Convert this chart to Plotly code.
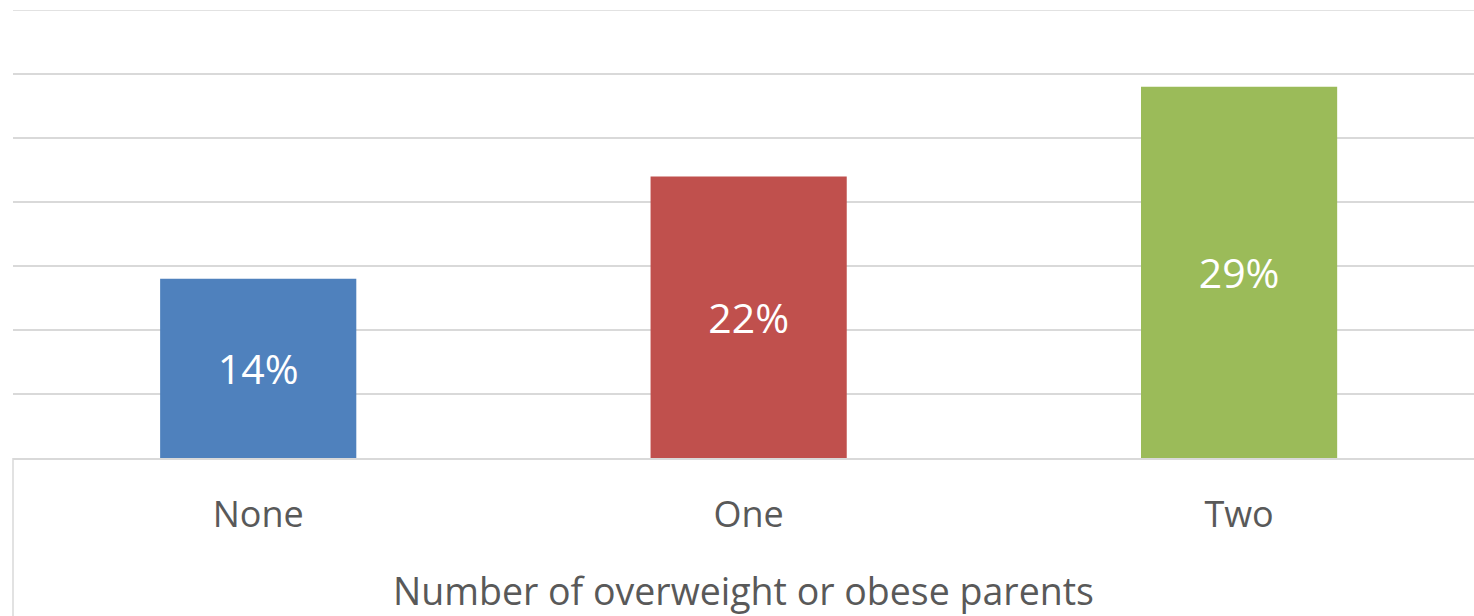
import plotly.graph_objects as go

categories = ["None", "One", "Two"]
shares = [0.14, 0.22, 0.29]
bar_colors = ["#4F81BD", "#C0504D", "#9BBB59"]
label_text = ["14%", "22%", "29%"]
axis_title = "Number of overweight or obese parents"
y_max = 0.35

FONT = "Open Sans"
GRID = "#d9d9d9"

fig = go.Figure(
    go.Bar(
        x=categories,
        y=shares,
        marker=dict(color=bar_colors, line=dict(width=0)),
        width=0.4,
        text=label_text,
        textposition="inside",
        insidetextanchor="middle",
        textangle=0,
        textfont=dict(family=FONT, size=41, color="white"),
        hoverinfo="skip",
    )
)

fig.update_layout(
    width=1474,
    height=616,
    margin=dict(l=13, r=0, t=10, b=158),
    paper_bgcolor="white",
    plot_bgcolor="white",
    showlegend=False,
    uniformtext=dict(minsize=10, mode="show"),
)

fig.update_xaxes(
    range=[-0.5, 2.479],
    showgrid=False,
    showline=True,
    linecolor=GRID,
    linewidth=2,
    ticks="",
    tickfont=dict(family=FONT, size=36, color="#595959"),
    ticklabelstandoff=24,
    title=dict(text=axis_title, font=dict(family=FONT, size=37.5, color="#595959"), standoff=48),
)

fig.update_yaxes(
    range=[0, y_max],
    dtick=0.05,
    tick0=0,
    showticklabels=False,
    showgrid=True,
    gridcolor=GRID,
    gridwidth=1.5,
    zeroline=False,
    showline=False,
    ticks="",
)

# top gridline at the end of the value range
fig.add_shape(
    type="line",
    xref="paper",
    yref="y",
    x0=0,
    x1=1,
    y0=y_max,
    y1=y_max,
    line=dict(color=GRID, width=1.5),
    layer="below",
)

# left edge of the category band below the baseline
fig.add_shape(
    type="line",
    xref="paper",
    yref="paper",
    x0=0,
    x1=0,
    y0=0,
    y1=-158 / 448,
    line=dict(color=GRID, width=1.5),
)

fig.write_html("out.html")
